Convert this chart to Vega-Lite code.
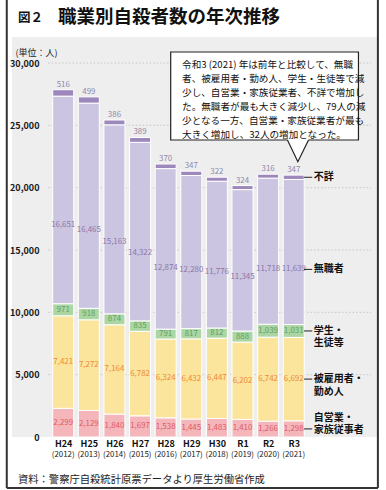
{
  "$schema": "https://vega.github.io/schema/vega-lite/v6.json",
  "width": 367,
  "height": 400,
  "autosize": {"type": "none"},
  "padding": {"left": 12, "top": 37, "right": 7, "bottom": 53},
  "background": "white",
  "view": {"fill": "#eeeeee", "stroke": null},
  "config": {"font": "Noto Sans CJK JP"},
  "title": {"text": "職業別自殺者数の年次推移", "anchor": "start", "frame": "group", "dx": 46, "dy": 18, "offset": -18, "baseline": "middle", "fontSize": 18.5, "fontWeight": "bold", "color": "#111111", "font": "Noto Sans CJK JP"},
  "datasets": {
    "seg": [
      {"era": "H24", "year": 2012, "cat": "自営業・家族従事者", "value": 2299},
      {"era": "H24", "year": 2012, "cat": "被雇用者・勤め人", "value": 7421},
      {"era": "H24", "year": 2012, "cat": "学生・生徒等", "value": 971},
      {"era": "H24", "year": 2012, "cat": "無職者", "value": 16651},
      {"era": "H24", "year": 2012, "cat": "不詳", "value": 516},
      {"era": "H25", "year": 2013, "cat": "自営業・家族従事者", "value": 2129},
      {"era": "H25", "year": 2013, "cat": "被雇用者・勤め人", "value": 7272},
      {"era": "H25", "year": 2013, "cat": "学生・生徒等", "value": 918},
      {"era": "H25", "year": 2013, "cat": "無職者", "value": 16465},
      {"era": "H25", "year": 2013, "cat": "不詳", "value": 499},
      {"era": "H26", "year": 2014, "cat": "自営業・家族従事者", "value": 1840},
      {"era": "H26", "year": 2014, "cat": "被雇用者・勤め人", "value": 7164},
      {"era": "H26", "year": 2014, "cat": "学生・生徒等", "value": 874},
      {"era": "H26", "year": 2014, "cat": "無職者", "value": 15163},
      {"era": "H26", "year": 2014, "cat": "不詳", "value": 386},
      {"era": "H27", "year": 2015, "cat": "自営業・家族従事者", "value": 1697},
      {"era": "H27", "year": 2015, "cat": "被雇用者・勤め人", "value": 6782},
      {"era": "H27", "year": 2015, "cat": "学生・生徒等", "value": 835},
      {"era": "H27", "year": 2015, "cat": "無職者", "value": 14322},
      {"era": "H27", "year": 2015, "cat": "不詳", "value": 389},
      {"era": "H28", "year": 2016, "cat": "自営業・家族従事者", "value": 1538},
      {"era": "H28", "year": 2016, "cat": "被雇用者・勤め人", "value": 6324},
      {"era": "H28", "year": 2016, "cat": "学生・生徒等", "value": 791},
      {"era": "H28", "year": 2016, "cat": "無職者", "value": 12874},
      {"era": "H28", "year": 2016, "cat": "不詳", "value": 370},
      {"era": "H29", "year": 2017, "cat": "自営業・家族従事者", "value": 1445},
      {"era": "H29", "year": 2017, "cat": "被雇用者・勤め人", "value": 6432},
      {"era": "H29", "year": 2017, "cat": "学生・生徒等", "value": 817},
      {"era": "H29", "year": 2017, "cat": "無職者", "value": 12280},
      {"era": "H29", "year": 2017, "cat": "不詳", "value": 347},
      {"era": "H30", "year": 2018, "cat": "自営業・家族従事者", "value": 1483},
      {"era": "H30", "year": 2018, "cat": "被雇用者・勤め人", "value": 6447},
      {"era": "H30", "year": 2018, "cat": "学生・生徒等", "value": 812},
      {"era": "H30", "year": 2018, "cat": "無職者", "value": 11776},
      {"era": "H30", "year": 2018, "cat": "不詳", "value": 322},
      {"era": "R1", "year": 2019, "cat": "自営業・家族従事者", "value": 1410},
      {"era": "R1", "year": 2019, "cat": "被雇用者・勤め人", "value": 6202},
      {"era": "R1", "year": 2019, "cat": "学生・生徒等", "value": 888},
      {"era": "R1", "year": 2019, "cat": "無職者", "value": 11345},
      {"era": "R1", "year": 2019, "cat": "不詳", "value": 324},
      {"era": "R2", "year": 2020, "cat": "自営業・家族従事者", "value": 1266},
      {"era": "R2", "year": 2020, "cat": "被雇用者・勤め人", "value": 6742},
      {"era": "R2", "year": 2020, "cat": "学生・生徒等", "value": 1039},
      {"era": "R2", "year": 2020, "cat": "無職者", "value": 11718},
      {"era": "R2", "year": 2020, "cat": "不詳", "value": 316},
      {"era": "R3", "year": 2021, "cat": "自営業・家族従事者", "value": 1298},
      {"era": "R3", "year": 2021, "cat": "被雇用者・勤め人", "value": 6692},
      {"era": "R3", "year": 2021, "cat": "学生・生徒等", "value": 1031},
      {"era": "R3", "year": 2021, "cat": "無職者", "value": 11639},
      {"era": "R3", "year": 2021, "cat": "不詳", "value": 347}
    ],
    "grid": [{"g": 5000}, {"g": 10000}, {"g": 15000}, {"g": 20000}, {"g": 25000}, {"g": 30000}],
    "pointer": [
      {"x": 2020.754, "y": 23823},
      {"x": 2021.161, "y": 22083},
      {"x": 2021.579, "y": 23823}
    ],
    "note": [{"note": "令和3 (2021) 年は前年と比較して、無職\n者、被雇用者・勤め人、学生・生徒等で減\n少し、自営業・家族従業者、不詳で増加し\nた。無職者が最も大きく減少し、79人の減\n少となる一方、自営業・家族従業者が最も\n大きく増加し、32人の増加となった。"}],
    "one": [{}]
  },
  "data": {"name": "seg"},
  "transform": [
    {"calculate": "indexof(['自営業・家族従事者','被雇用者・勤め人','学生・生徒等','無職者','不詳'], datum.cat)", "as": "k"},
    {"stack": "value", "groupby": ["year"], "sort": [{"field": "k", "order": "ascending"}], "as": ["v0", "v1"]},
    {"calculate": "datum.v0 + (datum.cat === '無職者' ? 0.38 : 0.5) * (datum.v1 - datum.v0)", "as": "mid"},
    {"calculate": "replace(datum.cat, '・', '・\\n')", "as": "leg"}
  ],
  "layer": [
    {
      "data": {"name": "grid"},
      "mark": {"type": "rule", "color": "#bdbdbd", "strokeWidth": 0.8, "strokeDash": [1.5, 2]},
      "encoding": {
        "y": {"field": "g", "type": "quantitative"},
        "x": {"datum": 2011.411, "type": "quantitative"},
        "x2": {"datum": 2024.021}
      }
    },
    {
      "mark": {"type": "bar", "width": 21, "stroke": "white", "strokeWidth": 1},
      "encoding": {
        "x": {
          "field": "year", "type": "quantitative",
          "scale": {"domain": [2010.196, 2024.134], "nice": false, "zero": false},
          "axis": {"values": [2012, 2013, 2014, 2015, 2016, 2017, 2018, 2019, 2020, 2021], "title": null, "grid": false, "ticks": false, "domain": false, "labelExpr": "datum.value < 2019 ? 'H' + (datum.value - 1988) : 'R' + (datum.value - 2018)", "labelFontSize": 9, "labelFontWeight": "bold", "labelColor": "#111111", "labelPadding": 2, "labelFont": "Noto Sans CJK JP"}
        },
        "y": {
          "field": "v0", "type": "quantitative",
          "scale": {"domain": [0, 32086], "nice": false, "zero": false},
          "axis": {"values": [0, 5000, 10000, 15000, 20000, 25000, 30000], "format": ",d", "offset": -32, "grid": false, "ticks": false, "domain": false, "labelFontSize": 9, "labelFontWeight": "bold", "labelColor": "#1a1a1a", "labelPadding": 5, "labelFont": "Noto Sans CJK JP", "title": "(単位：人)", "titleAngle": 0, "titleAlign": "left", "titleBaseline": "middle", "titleX": -29, "titleY": 15, "titleFontSize": 9, "titleFontWeight": "normal", "titleColor": "#222222", "titleFont": "Noto Sans CJK JP"}
        },
        "y2": {"field": "v1"},
        "color": {
          "field": "cat", "type": "nominal", "legend": null,
          "scale": {"domain": ["自営業・家族従事者", "被雇用者・勤め人", "学生・生徒等", "無職者", "不詳"], "range": ["#f4b6bb", "#fbe49c", "#abd6a3", "#cbc5e1", "#9d88bb"]}
        }
      }
    },
    {
      "transform": [{"filter": "datum.cat !== '不詳'"}],
      "mark": {"type": "text", "fontSize": 7.9, "font": "Noto Sans CJK JP", "baseline": "middle", "align": "center"},
      "encoding": {
        "x": {"field": "year", "type": "quantitative"},
        "y": {"field": "mid", "type": "quantitative"},
        "text": {"field": "value", "type": "quantitative", "format": ",d"},
        "color": {
          "field": "cat", "type": "nominal", "legend": null,
          "scale": {"domain": ["自営業・家族従事者", "被雇用者・勤め人", "学生・生徒等", "無職者"], "range": ["#e05a66", "#ec8a3a", "#5f9f5f", "#8c76a8"]}
        }
      }
    },
    {
      "transform": [{"filter": "datum.cat === '不詳'"}],
      "mark": {"type": "text", "fontSize": 7.9, "font": "Noto Sans CJK JP", "baseline": "bottom", "align": "center", "dy": -1, "color": "#8e88a8"},
      "encoding": {
        "x": {"field": "year", "type": "quantitative"},
        "y": {"field": "v1", "type": "quantitative"},
        "text": {"field": "value", "type": "quantitative", "format": ",d"}
      }
    },
    {
      "transform": [{"filter": "datum.year === 2021"}],
      "mark": {"type": "rule", "color": "#222222", "strokeWidth": 1},
      "encoding": {
        "x": {"datum": 2021.40, "type": "quantitative"},
        "x2": {"datum": 2021.723},
        "y": {"field": "mid", "type": "quantitative"}
      }
    },
    {
      "transform": [{"filter": "datum.year === 2021 && (datum.cat === '不詳' || datum.cat === '無職者')"}],
      "mark": {"type": "text", "fontSize": 10, "fontWeight": "bold", "baseline": "middle", "align": "left", "color": "#111111"},
      "encoding": {
        "x": {"datum": 2021.78, "type": "quantitative"},
        "y": {"field": "mid", "type": "quantitative"},
        "text": {"field": "leg"}
      }
    },
    {
      "transform": [{"filter": "datum.year === 2021 && (datum.cat === '学生・生徒等' || datum.cat === '被雇用者・勤め人')"}],
      "mark": {"type": "text", "fontSize": 10, "fontWeight": "bold", "baseline": "middle", "align": "left", "color": "#111111", "lineBreak": "\n", "lineHeight": 12.5},
      "encoding": {
        "x": {"datum": 2021.78, "type": "quantitative"},
        "y": {"field": "mid", "type": "quantitative"},
        "text": {"field": "leg"}
      }
    },
    {
      "transform": [{"filter": "datum.year === 2021 && datum.cat === '自営業・家族従事者'"}],
      "mark": {"type": "text", "fontSize": 10, "fontWeight": "bold", "baseline": "middle", "align": "left", "color": "#111111", "lineBreak": "\n", "lineHeight": 12, "dy": -11},
      "encoding": {
        "x": {"datum": 2021.78, "type": "quantitative"},
        "y": {"field": "mid", "type": "quantitative"},
        "text": {"field": "leg"}
      }
    },
    {
      "transform": [{"filter": "datum.cat === '不詳'"}, {"calculate": "'(' + datum.year + ')'", "as": "yl"}],
      "mark": {"type": "text", "fontSize": 7.9, "font": "Noto Sans CJK JP", "baseline": "middle", "align": "center", "color": "#222222"},
      "encoding": {
        "x": {"field": "year", "type": "quantitative"},
        "y": {"datum": -1444, "type": "quantitative"},
        "text": {"field": "yl"}
      }
    },
    {
      "data": {"name": "one"},
      "mark": {"type": "rect", "fill": "white", "stroke": "#222222", "strokeWidth": 1.2},
      "encoding": {
        "x": {"datum": 2016.197, "type": "quantitative"},
        "x2": {"datum": 2023.527},
        "y": {"datum": 30882, "type": "quantitative"},
        "y2": {"datum": 23823}
      }
    },
    {
      "data": {"name": "pointer"},
      "mark": {"type": "area", "fill": "white", "opacity": 1},
      "encoding": {
        "x": {"field": "x", "type": "quantitative"},
        "y": {"field": "y", "type": "quantitative"},
        "y2": {"datum": 23960}
      }
    },
    {
      "data": {"name": "pointer"},
      "mark": {"type": "line", "color": "#222222", "strokeWidth": 1.2},
      "encoding": {
        "x": {"field": "x", "type": "quantitative"},
        "y": {"field": "y", "type": "quantitative"}
      }
    },
    {
      "data": {"name": "note"},
      "mark": {"type": "text", "fontSize": 9.6, "baseline": "middle", "align": "left", "color": "#111111", "lineBreak": "\n", "lineHeight": 14.1},
      "encoding": {
        "x": {"datum": 2016.641, "type": "quantitative"},
        "y": {"datum": 29840, "type": "quantitative"},
        "text": {"field": "note"}
      }
    },
    {
      "data": {"name": "one"},
      "mark": {"type": "text", "text": "図２", "fontSize": 12.5, "fontWeight": "bold", "baseline": "middle", "align": "left", "color": "#111111"},
      "encoding": {
        "x": {"datum": 2010.234, "type": "quantitative"},
        "y": {"datum": 33609, "type": "quantitative"}
      }
    },
    {
      "data": {"name": "one"},
      "mark": {"type": "text", "text": "資料：警察庁自殺統計原票データより厚生労働省作成", "fontSize": 10.3, "baseline": "middle", "align": "left", "color": "#222222"},
      "encoding": {
        "x": {"datum": 2010.234, "type": "quantitative"},
        "y": {"datum": -3449, "type": "quantitative"}
      }
    },
    {
      "data": {"name": "one"},
      "mark": {"type": "rule", "color": "#333333", "strokeWidth": 2},
      "encoding": {
        "x": {"datum": 2009.797, "type": "quantitative"},
        "y": {"datum": 35053, "type": "quantitative"},
        "y2": {"datum": -4091}
      }
    },
    {
      "data": {"name": "one"},
      "mark": {"type": "rule", "color": "#333333", "strokeWidth": 2},
      "encoding": {
        "x": {"datum": 2024.286, "type": "quantitative"},
        "y": {"datum": 35053, "type": "quantitative"},
        "y2": {"datum": -4091}
      }
    },
    {
      "data": {"name": "one"},
      "mark": {"type": "rule", "color": "#333333", "strokeWidth": 2},
      "encoding": {
        "x": {"datum": 2009.797, "type": "quantitative"},
        "x2": {"datum": 2024.286},
        "y": {"datum": -4091, "type": "quantitative"}
      }
    }
  ],
  "resolve": {"scale": {"color": "independent"}}
}
